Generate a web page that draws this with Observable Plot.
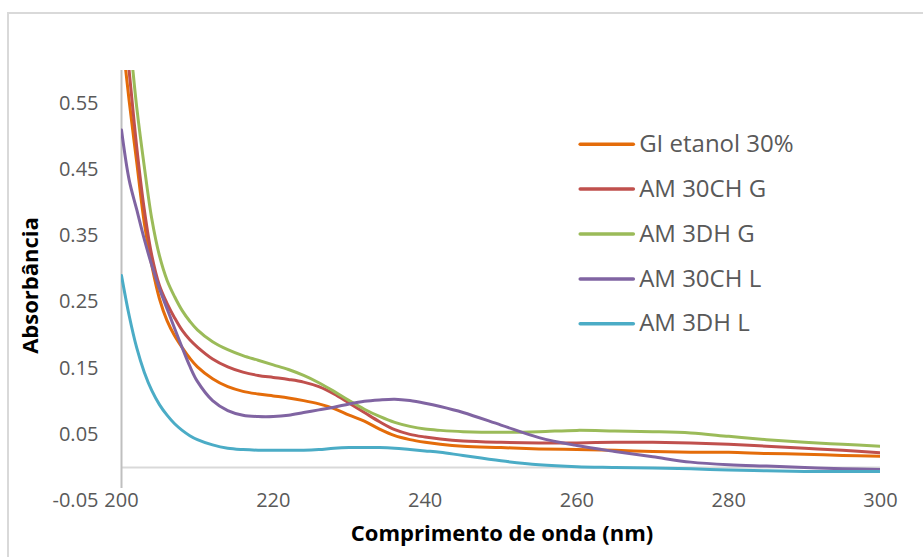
<!DOCTYPE html>
<html><head><meta charset="utf-8">
<script src="https://cdn.jsdelivr.net/npm/d3@7"></script>
<script src="https://cdn.jsdelivr.net/npm/@observablehq/plot@0.6"></script>
<style>
body{margin:0;background:#fff;}
#wrap{position:relative;width:923px;height:557px;overflow:hidden;background:#fff;}
#border{position:absolute;left:7px;top:12px;width:940px;height:580px;border-top:2px solid #d9d9d9;border-left:2px solid #d9d9d9;}
#chart{position:absolute;left:0;top:0;}
</style></head><body>
<div id="wrap"><div id="border"></div><div id="chart"></div></div>
<script>
const wavelengths = [200,201,202,203,204,205,206,207,208,209,210,212,214,216,218,220,222,224,226,228,230,232,234,236,238,240,242,245,250,255,260,265,270,275,280,285,290,295,300];
const giEtanol30 = [0.66,0.555,0.462,0.37,0.305,0.255,0.222,0.199,0.181,0.165,0.152,0.134,0.122,0.115,0.111,0.108,0.105,0.101,0.096,0.089,0.079,0.070,0.058,0.048,0.042,0.038,0.035,0.032,0.030,0.028,0.027,0.026,0.024,0.023,0.023,0.021,0.020,0.018,0.017];
const am30chG = [0.71,0.60,0.485,0.39,0.32,0.275,0.248,0.226,0.207,0.193,0.182,0.164,0.152,0.144,0.139,0.136,0.133,0.129,0.122,0.111,0.097,0.083,0.069,0.057,0.050,0.046,0.043,0.040,0.038,0.037,0.037,0.038,0.038,0.037,0.035,0.032,0.029,0.026,0.022];
const am3dhG = [0.74,0.655,0.545,0.455,0.375,0.32,0.283,0.258,0.237,0.221,0.208,0.190,0.178,0.169,0.162,0.155,0.148,0.139,0.128,0.115,0.101,0.088,0.077,0.068,0.062,0.058,0.056,0.054,0.053,0.054,0.056,0.055,0.054,0.052,0.047,0.042,0.038,0.035,0.032];
const am30chL = [0.51,0.435,0.39,0.345,0.305,0.27,0.24,0.21,0.181,0.153,0.13,0.101,0.086,0.079,0.077,0.077,0.079,0.083,0.087,0.091,0.096,0.100,0.102,0.103,0.101,0.097,0.092,0.083,0.064,0.045,0.033,0.024,0.016,0.008,0.004,0.002,0.000,-0.002,-0.003];
const am3dhL = [0.29,0.23,0.181,0.144,0.116,0.095,0.079,0.066,0.056,0.048,0.042,0.034,0.029,0.027,0.026,0.026,0.026,0.026,0.027,0.029,0.030,0.030,0.030,0.029,0.027,0.025,0.023,0.018,0.010,0.004,0.001,0.000,-0.001,-0.002,-0.004,-0.005,-0.006,-0.006,-0.006];

const seriesNames = ["GI etanol 30%","AM 30CH G","AM 3DH G","AM 30CH L","AM 3DH L"];
const seriesValues = [giEtanol30, am30chG, am3dhG, am30chL, am3dhL];
const seriesColors = ["#E46C0A","#C0504D","#9BBB59","#8064A2","#4BACC6"];
const yTicks = [-0.05,0.05,0.15,0.25,0.35,0.45,0.55];
const xTicks = [200,220,240,260,280,300];

const rows = [];
seriesNames.forEach((name, s) => wavelengths.forEach((w, i) => rows.push({series: name, nm: w, abs: seriesValues[s][i]})));

// legend layout (in data units)
const legX1 = 260.5, legX2 = 267.5, legTextX = 268.2, legY0 = 0.4887, legStep = 0.0679;
const legend = seriesNames.map((name, i) => ({series: name, y: legY0 - i * legStep}));

const font = "'Open Sans', sans-serif";
const plot = Plot.plot({
  width: 923, height: 557,
  marginLeft: 121, marginRight: 43, marginTop: 70, marginBottom: 57,
  style: {fontFamily: font, background: "transparent", overflow: "visible"},
  x: {domain: [200, 300], axis: null},
  y: {domain: [-0.05, 0.6]},
  color: {domain: seriesNames, range: seriesColors},
  marks: [
    Plot.ruleY([0], {stroke: "#d9d9d9", strokeWidth: 2}),
    Plot.ruleX([200], {y1: -0.032, y2: 0.6, stroke: "#bfbfbf", strokeWidth: 2}),
    Plot.axisY(yTicks, {tickSize: 0, tickPadding: 23, tickFormat: d => d.toFixed(2), fontSize: 20, fill: "#595959", label: null}),
    Plot.text(xTicks, {x: d => d, y: -0.05, text: d => String(d), fontSize: 20, fill: "#595959", lineAnchor: "middle"}),
    Plot.line(rows, {x: "nm", y: "abs", z: "series", stroke: "series", strokeWidth: 3, curve: "catmull-rom", clip: true}),
    Plot.ruleY(legend, {y: "y", x1: legX1, x2: legX2, stroke: "series", strokeWidth: 3.5, strokeLinecap: "round"}),
    Plot.text(legend, {x: legTextX, y: "y", text: "series", textAnchor: "start", lineAnchor: "middle", fontSize: 24, fill: "#595959"}),
    Plot.text(["Absorbância"], {frameAnchor: "left", dx: -91, rotate: -90, textAnchor: "middle", fontWeight: "bold", fontSize: 22, fill: "#000", lineAnchor: "middle"}),
    Plot.text(["Comprimento de onda (nm)"], {frameAnchor: "bottom", dx: 1, dy: 33, textAnchor: "middle", fontWeight: "bold", fontSize: 22, fill: "#000", lineAnchor: "middle"})
  ]
});
document.getElementById("chart").appendChild(plot);
</script>
</body></html>
